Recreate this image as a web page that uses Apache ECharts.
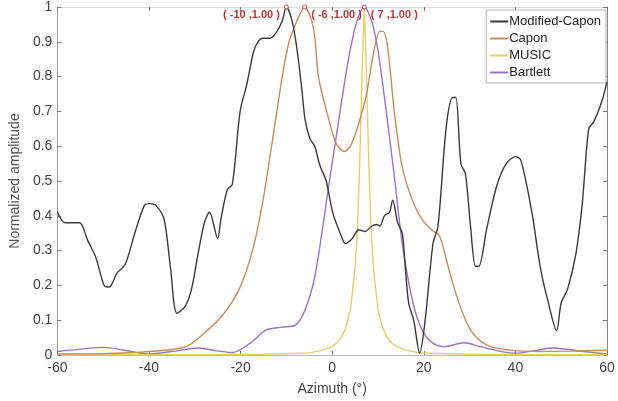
<!DOCTYPE html>
<html>
<head>
<meta charset="utf-8">
<script src="https://cdn.jsdelivr.net/npm/echarts@6/dist/echarts.min.js"></script>
<style>
	html, body { margin: 0; padding: 0; background: #fff; }
	#chart { width: 618px; height: 401px; }
</style>
</head>
<body>
<div id="chart"></div>
<script>
// 数据 [azimuth, amplitude]
const modCapon = [
	[-60, 0.41], [-58.3, 0.38], [-56.2, 0.38], [-55.1, 0.38], [-53.4, 0.33], [-51.6, 0.28],
	[-49.8, 0.2], [-48.7, 0.195], [-47, 0.235], [-45.2, 0.26], [-43.1, 0.35], [-41, 0.43],
	[-39.9, 0.435], [-38.5, 0.43], [-36.7, 0.39], [-35.3, 0.25], [-33.9, 0.12], [-32.1, 0.14],
	[-30.7, 0.19], [-29.3, 0.29], [-27.9, 0.38], [-26.8, 0.41], [-25, 0.335], [-24.3, 0.39],
	[-22.9, 0.475], [-21.8, 0.49], [-20.1, 0.7], [-18.6, 0.78], [-17.2, 0.87], [-16.2, 0.9],
	[-15.1, 0.91], [-13.7, 0.91], [-12.3, 0.925], [-10.9, 0.96], [-10, 1.0], [-8.75, 0.96],
	[-7.7, 0.88], [-6.6, 0.76], [-5.9, 0.675], [-4.8, 0.62], [-3.8, 0.6], [-2.7, 0.545],
	[-1.3, 0.5], [0.1, 0.41], [1.9, 0.345], [2.9, 0.32], [4.4, 0.335], [5.8, 0.36],
	[7.2, 0.355], [8.6, 0.37], [9.7, 0.375], [10.4, 0.37], [11.4, 0.4], [12.5, 0.41],
	[13.2, 0.445], [14.3, 0.38], [15.3, 0.35], [16, 0.245], [16.7, 0.15], [17.8, 0.1],
	[19.1, 0.005], [20.3, 0.1], [22, 0.32], [23.1, 0.37], [24.9, 0.655], [26.3, 0.74],
	[27, 0.74], [28.1, 0.55], [29.1, 0.52], [30.2, 0.37], [31.3, 0.255], [32, 0.255],
	[33.7, 0.36], [35.9, 0.485], [38, 0.55], [40.1, 0.57], [41.2, 0.56], [43.6, 0.41],
	[45.4, 0.255], [47.2, 0.15], [49, 0.07], [50, 0.15], [51.4, 0.19], [53.2, 0.29],
	[54.6, 0.435], [56, 0.65], [57.1, 0.67], [58.9, 0.73], [60, 0.785]
]
const capon = [
	[-60, 0.003], [-50, 0.004], [-40, 0.01], [-32.1, 0.023], [-27.9, 0.063], [-23.6, 0.12],
	[-20.1, 0.195], [-17.2, 0.31], [-15.1, 0.445], [-13, 0.62], [-10.9, 0.8], [-9.5, 0.895],
	[-7.7, 0.96], [-6, 1.0], [-4.1, 0.94], [-3, 0.8], [-1, 0.69], [0.8, 0.61], [2.6, 0.585],
	[4, 0.6], [5.8, 0.665], [7.5, 0.75], [9, 0.865], [10.4, 0.93], [11.1, 0.93], [12.1, 0.885],
	[13.6, 0.695], [15.3, 0.54], [17.5, 0.445], [19.6, 0.39], [21.7, 0.36], [23.5, 0.34],
	[25.2, 0.26], [27.4, 0.16], [30.2, 0.072], [33.7, 0.029], [38.7, 0.014], [45, 0.01],
	[52, 0.011], [60, 0.014]
]
const music = [
	[-60, 0.001], [-30, 0.001], [-15, 0.002], [-5, 0.006], [-2, 0.014], [0, 0.025], [1, 0.035],
	[2, 0.05], [3, 0.08], [4, 0.13], [5, 0.25], [5.5, 0.36], [6, 0.55], [6.5, 0.8], [7, 1.0],
	[7.5, 0.8], [8, 0.55], [8.5, 0.36], [9, 0.25], [10, 0.13], [11, 0.08], [12, 0.05],
	[13, 0.035], [14, 0.025], [16, 0.014], [19, 0.006], [30, 0.002], [45, 0.001], [60, 0.001]
]
const bartlett = [
	[-60, 0.01], [-55, 0.017], [-49.8, 0.022], [-45, 0.013], [-40, 0.003], [-35, 0.01],
	[-29.3, 0.02], [-25, 0.012], [-21.8, 0.007], [-17.9, 0.034], [-14.4, 0.072], [-10.9, 0.08],
	[-8, 0.086], [-5.9, 0.13], [-3.8, 0.225], [-1.7, 0.4], [-1, 0.465], [1.2, 0.655],
	[3.3, 0.83], [5.1, 0.945], [7, 1.0], [8.6, 0.96], [10, 0.875], [11.8, 0.7], [13.6, 0.51],
	[15.3, 0.32], [17.5, 0.158], [19.6, 0.072], [22, 0.034], [24.5, 0.024], [28.8, 0.035],
	[32.3, 0.024], [37.3, 0.009], [40, 0.005], [44, 0.012], [47.9, 0.02], [52, 0.015],
	[54.9, 0.01], [60, 0.003]
]
const seriesNames = ['Modified-Capon', 'Capon', 'MUSIC', 'Bartlett']
const seriesColors = ['#3a3a3a', '#c98a5c', '#e8cb6a', '#9a72c6']
// 峰值标注
const peaks = [
	{ series: 0, az: -10, val: 1.0, text: '( -10 ,1.00 )', pos: 'left' },
	{ series: 1, az: -6, val: 1.0, text: '( -6 ,1.00 )', pos: 'right' },
	{ series: 3, az: 7, val: 1.0, text: '( 7 ,1.00 )', pos: 'right' }
]

const font = 'Liberation Sans, Arial, sans-serif'
const chart = echarts.init(document.getElementById('chart'))
const allData = [modCapon, capon, music, bartlett]

const tickStyle = { show: true, inside: true, length: 4, lineStyle: { color: '#777' } }

chart.setOption({
	animation: false,
	textStyle: { fontFamily: font },
	grid: { left: 42, right: 11, top: 7, bottom: 46 },
	legend: {
		data: seriesNames,
		orient: 'vertical',
		right: 12,
		top: 10,
		padding: [5, 5, 4, 4],
		itemGap: 4,
		itemWidth: 18,
		itemHeight: 2,
		icon: 'rect',
		backgroundColor: '#fff',
		borderColor: '#b0b0b0',
		borderWidth: 1,
		textStyle: { fontSize: 13, color: '#222', padding: [0, 0, 0, -4], fontFamily: font }
	},
	xAxis: [
		{
			type: 'value', min: -60, max: 60, interval: 20,
			name: 'Azimuth (°)', nameLocation: 'middle', nameGap: 27,
			nameTextStyle: { fontSize: 14, color: '#444' },
			axisLabel: { fontSize: 14, color: '#444', margin: 6 },
			axisLine: { show: true, onZero: false, lineStyle: { color: '#bbb' } },
			axisTick: tickStyle,
			splitLine: { show: false }
		},
		{
			type: 'value', min: -60, max: 60, interval: 20, position: 'top',
			axisLabel: { show: false },
			axisLine: { show: true, onZero: false, lineStyle: { color: '#ddd' } },
			axisTick: tickStyle,
			splitLine: { show: false }
		}
	],
	yAxis: [
		{
			type: 'value', min: 0, max: 1, interval: 0.1,
			name: 'Normalized amplitude', nameLocation: 'middle', nameGap: 30,
			nameTextStyle: { fontSize: 14, color: '#555' },
			axisLabel: {
				fontSize: 14, color: '#444', margin: 5,
				formatter: v => (v === 0 || v === 1 ? String(v) : v.toFixed(1))
			},
			axisLine: { show: true, onZero: false, lineStyle: { color: '#999' } },
			axisTick: tickStyle,
			splitLine: { show: false }
		},
		{
			type: 'value', min: 0, max: 1, interval: 0.1, position: 'right',
			axisLabel: { show: false },
			axisLine: { show: true, onZero: false, lineStyle: { color: '#888' } },
			axisTick: tickStyle,
			splitLine: { show: false }
		}
	],
	series: allData.map((data, i) => {
		const s = {
			name: seriesNames[i],
			type: 'line',
			data: data,
			smooth: i === 2 ? false : 0.3,
			showSymbol: false,
			lineStyle: { color: seriesColors[i], width: 1.4 },
			itemStyle: { color: seriesColors[i] },
			z: 4 - i
		}
		const pk = peaks.filter(p => p.series === i)
		if (pk.length) {
			s.markPoint = {
				symbol: 'circle',
				symbolSize: 4,
				itemStyle: { color: '#fff', borderColor: '#c04040', borderWidth: 1 },
				data: pk.map(p => ({
					coord: [p.az, p.val],
					label: {
						show: true,
						formatter: p.text,
						position: p.pos,
						distance: 4,
						offset: [0, 8],
						color: '#b53a3a',
						fontSize: 11,
						fontWeight: 'bold'
					}
				}))
			}
		}
		return s
	})
})
</script>
</body>
</html>
